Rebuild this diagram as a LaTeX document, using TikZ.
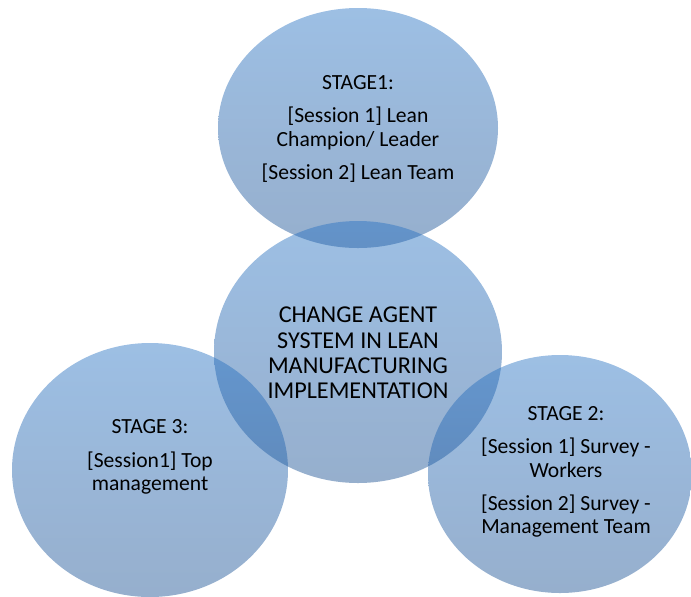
\documentclass[tikz,border=0pt]{standalone}
\usepackage{fontspec}
\setmainfont{Carlito}
\usetikzlibrary{shapes.geometric}
\definecolor{venntop}{RGB}{37,113,195}
\definecolor{vennbottom}{RGB}{22,77,144}
\tikzset{
    venn/.style={ellipse, inner sep=0pt, draw=none, top color=venntop, bottom color=vennbottom, fill opacity=0.45},
    stagetext/.style={align=center, inner sep=0pt, font=\fontsize{10.8}{11.6}\selectfont},
    hubtext/.style={align=center, inner sep=0pt, font=\fontsize{12.1}{12.6}\selectfont}
}
\begin{document}
\begin{tikzpicture}[x=0.5pt, y=-0.5pt]
    \useasboundingbox (0,0) rectangle (691,596);
    % the four circles of the venn
    \node[venn, minimum width=140pt, minimum height=120pt] (stage1) at (358,128) {};
    \node[venn, minimum width=144pt, minimum height=131pt] (hub) at (358,352) {};
    \node[venn, minimum width=138pt, minimum height=127pt] (stage3) at (150,470) {};
    \node[venn, minimum width=132pt, minimum height=119pt] (stage2) at (560,474) {};
    % texts
    \node[stagetext] (stage1text) at (358,129) {STAGE1:\\[5pt] [Session 1] Lean\\ Champion/ Leader\\[5pt] [Session 2] Lean Team};
    \node[hubtext] (hubtext) at (358,353) {CHANGE AGENT\\ SYSTEM IN LEAN\\ MANUFACTURING\\ IMPLEMENTATION};
    \node[stagetext] (stage3text) at (150,457) {STAGE 3:\\[5pt] [Session1] Top\\ management};
    \node[stagetext] (stage2text) at (566,472) {STAGE 2:\\[5pt] [Session 1] Survey -\\ Workers\\[5pt] [Session 2] Survey -\\ Management Team};
\end{tikzpicture}
\end{document}
